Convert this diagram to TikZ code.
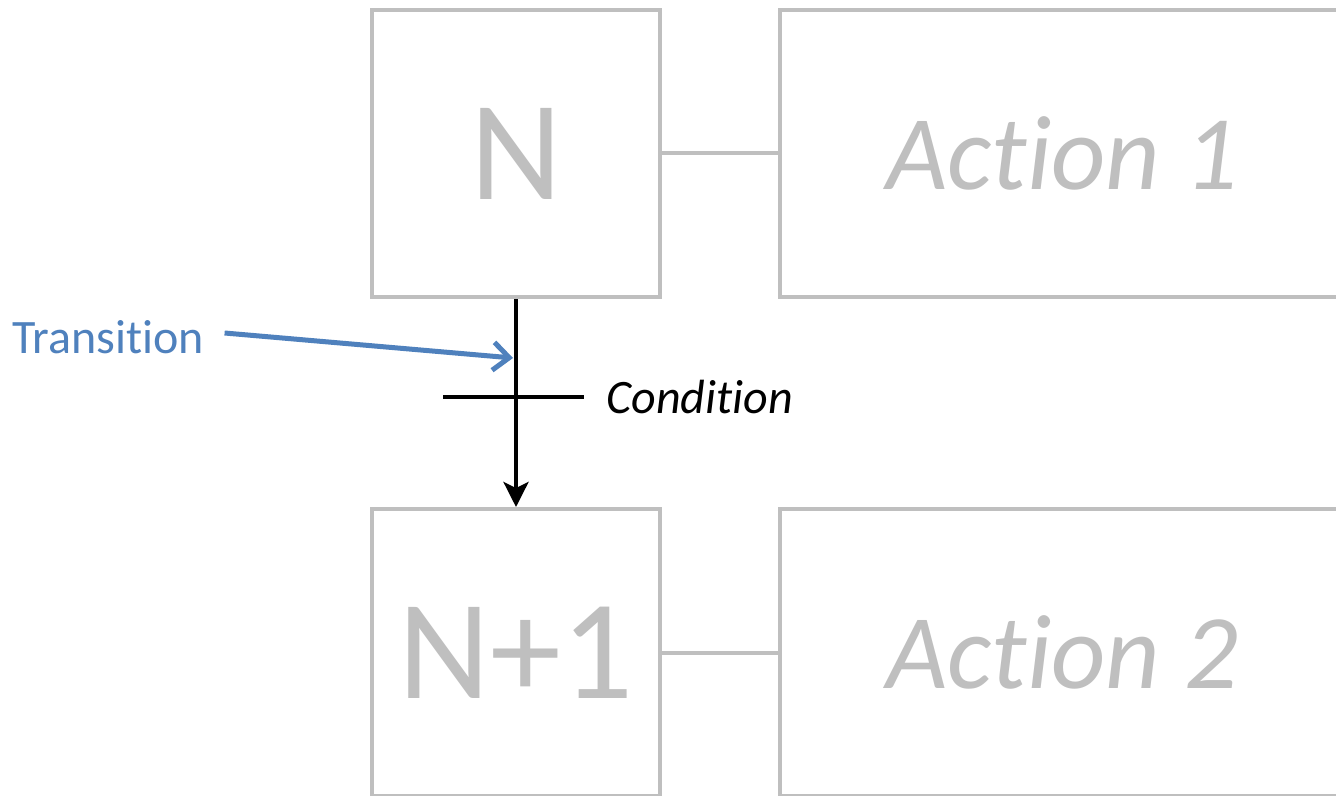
\documentclass[tikz,border=0pt]{standalone}
\usepackage{fontspec}
\setmainfont{Carlito}[RawFeature={-liga;-clig;-dlig;-calt}]
\usetikzlibrary{arrows.meta, positioning}

\definecolor{stepgray}{HTML}{BFBFBF}
\definecolor{noteblue}{HTML}{4F81BD}

\tikzset{
  stepbox/.style={draw=stepgray, line width=2pt, inner sep=0pt,
    minimum width=144pt, minimum height=143.5pt, text=stepgray,
    font=\fontsize{71}{71}\selectfont},
  actbox/.style={draw=stepgray, line width=2pt, inner sep=0pt,
    minimum width=282pt, minimum height=143.5pt, text=stepgray,
    font=\fontsize{53}{53}\selectfont\itshape},
  link/.style={draw=stepgray, line width=2pt},
  note/.style={inner sep=0pt, font=\fontsize{24}{24}\selectfont}
}

\begin{document}
\begin{tikzpicture}[x=0.5pt, y=-0.5pt, >={Stealth[length=12.5pt, width=12.5pt, inset=3pt]}]
\clip (0,0) rectangle (1336,796);
\fill[white] (0,0) rectangle (1336,796);

% steps and their actions
\node [stepbox] (N)  at (516,153.5) {\raisebox{-2pt}{N}};
\node [actbox]  (A1) at (1062,153.5) {Action 1};
\node [stepbox] (N1) at (516,652.5) {N+1};
\node [actbox]  (A2) at (1062,652.5) {Action 2};
\draw [link] (N.east) -- (A1.west);
\draw [link] (N1.east) -- (A2.west);

% transition between the two steps
\draw [->, line width=2pt] (N.south) -- (N1.north);
\coordinate (C) at (516,397);
\draw [line width=2pt] ([xshift=-36.5pt]C) -- ([xshift=34pt]C) coordinate (Cr);
\node [note, anchor=west, right=11pt of Cr] (cond) {\itshape Condition};

% callout
\node [note, anchor=west, text=noteblue] (trans) at (12,337) {Transition};
\coordinate (T) at (513,358);
\draw [noteblue, line width=2.5pt, -{Straight Barb[length=8pt, width=14pt]}]
  ([xshift=10pt, yshift=2pt]trans.east) -- (T);
\end{tikzpicture}
\end{document}
